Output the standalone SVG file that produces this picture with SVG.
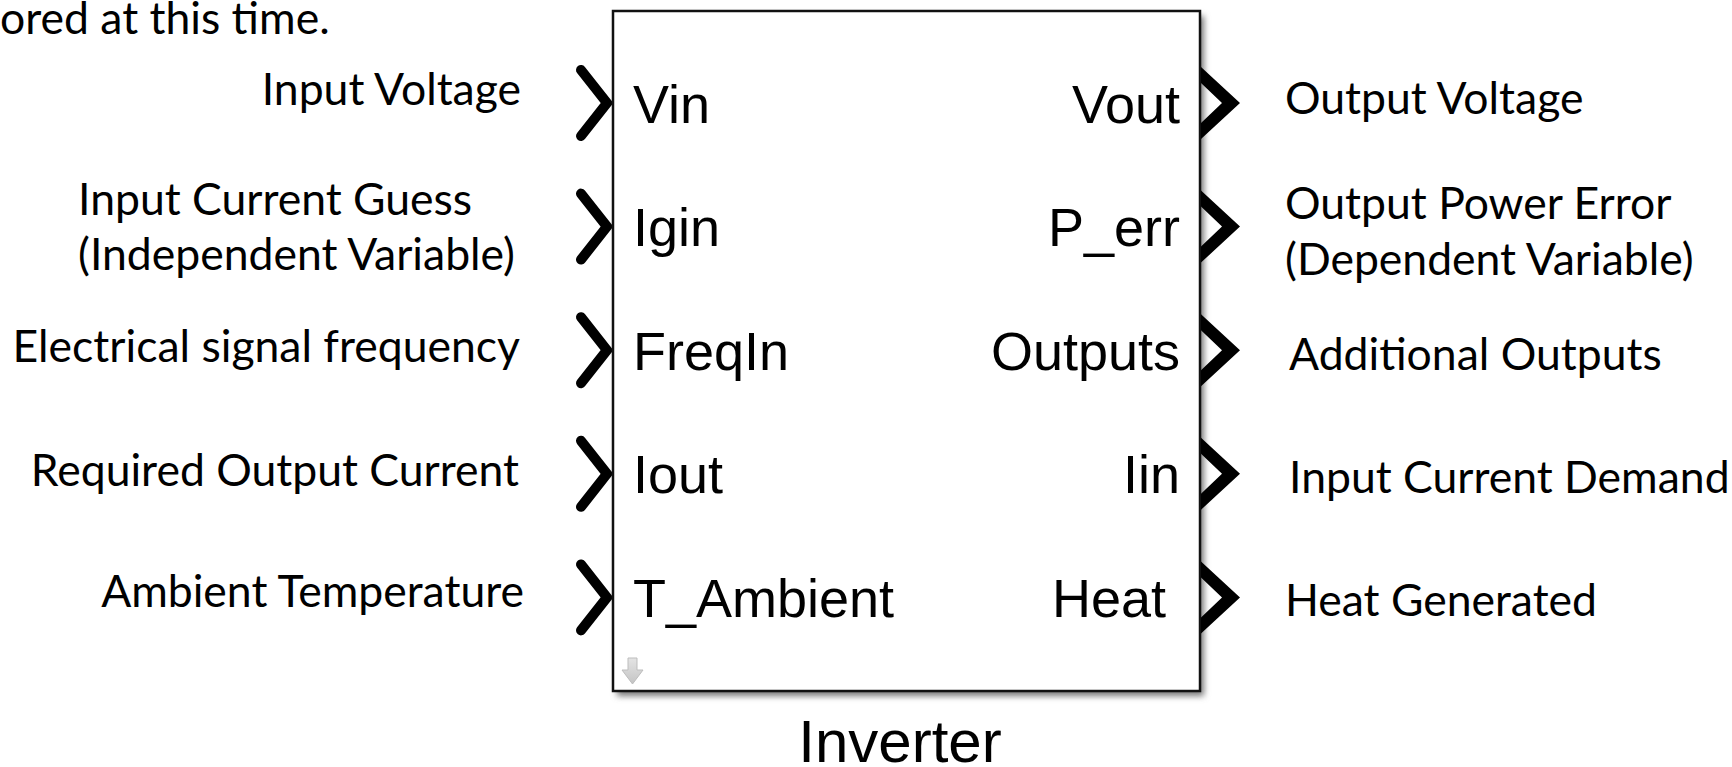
<svg xmlns="http://www.w3.org/2000/svg" width="1732" height="767" viewBox="0 0 1732 767">
<defs>
<style>
.lbl{font-family:Lato,"Liberation Sans",sans-serif;font-size:44.5px;fill:#000}
.port{font-family:"Liberation Sans",Arial,sans-serif;font-size:54px;fill:#000}
.title{font-family:"Liberation Sans",Arial,sans-serif;font-size:60px;fill:#000;text-anchor:middle}
.end{text-anchor:end}
.inp{fill:none;stroke:#000;stroke-width:10;stroke-linecap:round;stroke-linejoin:miter}
.outp{fill:#000}
</style>
<filter id="blur" x="-5%" y="-5%" width="115%" height="115%"><feGaussianBlur stdDeviation="3"/></filter>
<linearGradient id="arrowGrad" x1="0" y1="0" x2="0" y2="1"><stop offset="0" stop-color="#e4e4e4"/><stop offset="1" stop-color="#c4c4c4"/></linearGradient>
<path id="inChev" d="M-26,-33 L0,0 L-26,33"/>
<path id="outChev" d="M0,-36 L39,0 L0,36 L0,20 L21,0 L0,-20 Z"/>
</defs>
<rect x="0" y="0" width="1732" height="767" fill="#fff"/>

<text class="lbl" x="0" y="34">ored at this time.</text>

<g id="input-labels">
<text class="lbl end" x="521" y="105">Input Voltage</text>
<text class="lbl" x="78" y="215">Input Current Guess</text>
<text class="lbl" x="78" y="270">(Independent Variable)</text>
<text class="lbl end" x="520" y="362">Electrical signal frequency</text>
<text class="lbl end" x="519" y="486">Required Output Current</text>
<text class="lbl end" x="524" y="607">Ambient Temperature</text>
</g>

<g id="output-labels">
<text class="lbl" x="1285" y="114">Output Voltage</text>
<text class="lbl" x="1285" y="219">Output Power Error</text>
<text class="lbl" x="1285" y="275">(Dependent Variable)</text>
<text class="lbl" x="1289" y="370">Additional Outputs</text>
<text class="lbl" x="1289" y="493">Input Current Demand</text>
<text class="lbl" x="1285" y="616">Heat Generated</text>
</g>

<g id="ports">
<use href="#inChev" class="inp" x="607" y="103"/>
<use href="#inChev" class="inp" x="607" y="226.6"/>
<use href="#inChev" class="inp" x="607" y="350.2"/>
<use href="#inChev" class="inp" x="607" y="473.8"/>
<use href="#inChev" class="inp" x="607" y="597.4"/>
</g>

<g id="inverter">
<rect x="617" y="16" width="587" height="680" fill="#777" filter="url(#blur)"/>
<rect x="613" y="11" width="587" height="680" fill="#fff" stroke="#111" stroke-width="2.5"/>
<polygon points="628,658 637,658 637,670 643,670 632.5,684 622,670 628,670" fill="url(#arrowGrad)" stroke="#bdbdbd" stroke-width="1"/>
<text class="port" x="633" y="122.5">Vin</text>
<text class="port" x="633" y="246">Igin</text>
<text class="port" x="633" y="369.5">FreqIn</text>
<text class="port" x="633" y="493">Iout</text>
<text class="port" x="633" y="617">T_Ambient</text>
<text class="port end" x="1180" y="122.5">Vout</text>
<text class="port end" x="1180" y="246">P_err</text>
<text class="port end" x="1180" y="369.5">Outputs</text>
<text class="port end" x="1180" y="493">Iin</text>
<text class="port end" x="1166" y="617">Heat</text>
<text class="title" x="900" y="762">Inverter</text>
</g>

<g id="output-ports">
<use href="#outChev" class="outp" x="1201" y="103"/>
<use href="#outChev" class="outp" x="1201" y="226.6"/>
<use href="#outChev" class="outp" x="1201" y="350.2"/>
<use href="#outChev" class="outp" x="1201" y="473.8"/>
<use href="#outChev" class="outp" x="1201" y="597.4"/>
</g>
</svg>
